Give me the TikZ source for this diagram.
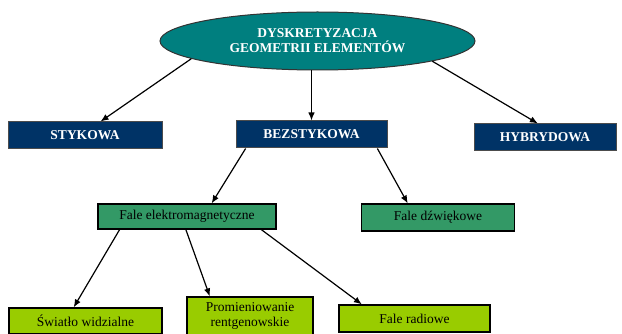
\documentclass[tikz,border=0pt]{standalone}
\usepackage{fontspec}
\setmainfont{Liberation Serif}
\usetikzlibrary{shapes.geometric,arrows.meta}
\definecolor{RootFill}{HTML}{007F7F}
\definecolor{Contact}{HTML}{003366}
\definecolor{Waves}{HTML}{339966}
\definecolor{Spectrum}{HTML}{99CC00}
\newcommand{\DiagFont}{\fontsize{13.5}{15}\selectfont}

\begin{document}
\begin{tikzpicture}[x=1pt, y=1pt,
                    root/.style = { ellipse, draw=black!80, line width=1pt, fill=RootFill, text=white,
                                    font=\bfseries\DiagFont, align=center, inner sep=0pt,
                                    minimum width=315pt, minimum height=58pt },
                    kind/.style = { draw=black!70, line width=1pt, fill=Contact, text=white,
                                    font=\bfseries\DiagFont, inner sep=0pt, minimum height=27pt },
                    wave/.style = { draw=black, line width=1.2pt, fill=Waves,
                                    font=\DiagFont, inner sep=0pt, minimum height=26pt },
                    ray/.style = { draw=black, line width=1.2pt, fill=Spectrum, align=center,
                                   font=\DiagFont, inner sep=0pt, minimum height=27pt },
                    arrow/.style = { -{Latex[length=8pt,width=6.5pt]}, line width=1.2pt }]

  \useasboundingbox (0,0) rectangle (622,-334);

  \node (root) at(317.5,-41) [root] {DYSKRETYZACJA\\GEOMETRII ELEMENTÓW};

  \node (stykowa)    at(85,-135.5)  [kind, minimum width=154pt] {STYKOWA};
  \node (bezstykowa) at(311.5,-134.5) [kind, minimum width=151pt] {BEZSTYKOWA};
  \node (hybrydowa)  at(545,-137.5) [kind, minimum width=142pt] {HYBRYDOWA};

  \node (elektro) at(187,-216.5) [wave, minimum width=178pt, minimum height=25pt] {Fale elektromagnetyczne};
  \node (dzwiek)  at(438,-217.5) [wave, minimum width=153pt, minimum height=27pt] {Fale dźwiękowe};

  \node (swiatlo) at(85.5,-321)  [ray, minimum width=153pt, minimum height=26pt] {Światło widzialne};
  \node (rtg)     at(250,-316)   [ray, minimum width=126pt, minimum height=38pt] {Promieniowanie\\rentgenowskie};
  \node (radio)   at(414.5,-318.5) [ray, minimum width=151pt] {Fale radiowe};

  \draw [arrow] (root.188.5) -- (stykowa.42);
  \draw [arrow] (bezstykowa.north |- root.south) -- (bezstykowa.north);
  \draw [arrow] (root.350) -- (hybrydowa.117);

  \draw [arrow] (bezstykowa.192) -- (elektro.28.5);
  \draw [arrow] (bezstykowa.348) -- (dzwiek.155.8);

  \draw [arrow] (elektro.191.2) -- (swiatlo.131.5);
  \draw [arrow] (elektro.265.4) -- (rtg.154.6);
  \draw [arrow] (elektro.350.5) -- (radio.165.6);
\end{tikzpicture}
\end{document}
